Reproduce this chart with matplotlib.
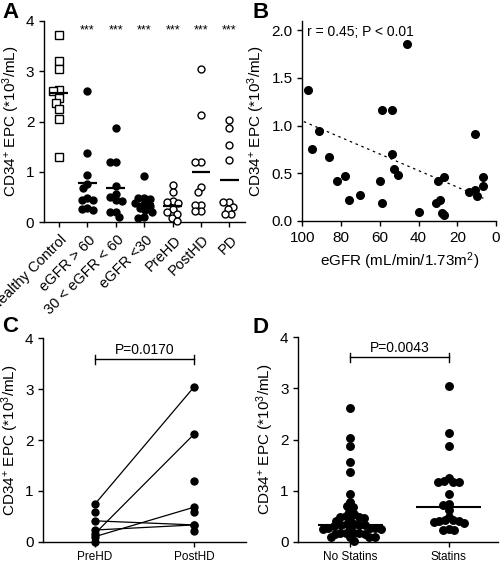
import numpy as np
import matplotlib
matplotlib.use('Agg')
from matplotlib import pyplot as plt
from matplotlib import transforms

plt.rcParams['font.family'] = ['Liberation Sans', 'DejaVu Sans']
plt.rcParams['mathtext.fontset'] = 'custom'
plt.rcParams['mathtext.rm'] = 'Liberation Sans'
plt.rcParams['mathtext.it'] = 'Liberation Sans:italic'
plt.rcParams['mathtext.bf'] = 'Liberation Sans:bold'
plt.rcParams['axes.linewidth'] = 1.0
plt.rcParams['xtick.major.width'] = 1.0
plt.rcParams['ytick.major.width'] = 1.0
plt.rcParams['xtick.major.size'] = 3.5
plt.rcParams['ytick.major.size'] = 3.5

#%% data
# panel A: CD34+ EPC per group (*10^3/mL)
groups_a = ['Healthy Control', 'eGFR > 60', '30 < eGFR < 60', 'eGFR <30', 'PreHD', 'PostHD', 'PD']
healthy = [3.72, 3.20, 3.04, 2.62, 2.60, 2.47, 2.37, 2.25, 2.05, 1.29]
egfr_hi = [2.61, 1.37, 0.94, 0.76, 0.68, 0.48, 0.43, 0.43, 0.28, 0.23, 0.25]
egfr_mid = [1.87, 1.19, 1.19, 0.71, 0.55, 0.50, 0.43, 0.42, 0.20, 0.19, 0.10]
egfr_lo = [0.92, 0.47, 0.47, 0.45, 0.37, 0.35, 0.31, 0.27, 0.23, 0.20, 0.10, 0.08]
prehd = [0.74, 0.59, 0.41, 0.40, 0.38, 0.25, 0.20, 0.16, 0.08, 0.02]
posthd = [3.05, 2.12, 1.19, 1.19, 0.69, 0.59, 0.34, 0.34, 0.22, 0.22]
pd_vals = [2.02, 1.87, 1.54, 1.24, 0.39, 0.39, 0.30, 0.25, 0.15, 0.15]
stars = ['', '***', '***', '***', '***', '***', '***']

# panel B: eGFR vs CD34+ EPC
egfr_b = [97.2, 95.2, 91.2, 86.2, 81.9, 78.0, 76.1, 70.1, 59.9, 58.9, 58.9, 53.9, 53.9, 52.8, 50.8,
          45.8, 39.8, 30.8, 29.8, 28.7, 27.7, 26.7, 26.7, 13.8, 10.7, 10.7, 9.6, 6.5, 6.5]
epc_b = [1.37, 0.75, 0.94, 0.67, 0.42, 0.47, 0.22, 0.27, 0.42, 0.19, 1.16, 1.16, 0.70, 0.54, 0.48,
         1.86, 0.09, 0.19, 0.42, 0.22, 0.08, 0.06, 0.46, 0.30, 0.33, 0.91, 0.26, 0.46, 0.37]
# regression line as drawn in the figure
fit_slope = 0.00867
fit_intercept = 0.182
r_text = 'r = 0.45; P < 0.01'

# panel C: paired PreHD / PostHD
labels_c = ['PreHD', 'PostHD']
pre_paired = [0.74, 0.16, 0.41, 0.10, 0.23]
post_paired = [3.05, 2.12, 0.33, 0.68, 0.33]
pre_only = [0.59, 0.0]
post_only = [1.19, 0.59, 0.22]
p_c = 'P=0.0170'

# panel D: statins
labels_d = ['No Statins', 'Statins']
no_statins = [2.61, 2.02, 1.88, 1.55, 1.37, 0.93, 0.77, 0.69, 0.67, 0.59, 0.55,
              0.47, 0.48, 0.49, 0.50,
              0.41, 0.43,
              0.31, 0.32, 0.33, 0.33, 0.34, 0.35,
              0.25, 0.26, 0.27, 0.26, 0.27, 0.25,
              0.16, 0.17, 0.18, 0.17, 0.18, 0.16,
              0.09, 0.10, 0.09, 0.10,
              0.02]
statins = [3.05, 2.12, 1.87, 1.24, 1.19, 1.17, 1.17, 1.17, 0.94, 0.74, 0.72, 0.62, 0.49,
           0.42, 0.42, 0.41, 0.40, 0.38, 0.36, 0.25, 0.22, 0.22]
p_d = 'P=0.0043'

ylab = 'CD34$^{+}$ EPC (*10$^{3}$/mL)'


def swarm_x(ax, x0, vals, diam):
    # simple beeswarm: place each point as close to the centre as possible (pixel space)
    vals = np.asarray(vals, dtype=float)
    ys = ax.transData.transform(np.column_stack([np.full(len(vals), x0), vals]))[:, 1]
    px_per_unit = abs(ax.transData.transform([[1, 0]])[0, 0] - ax.transData.transform([[0, 0]])[0, 0])
    order = np.argsort(-vals, kind='stable')
    placed = []
    offs = np.zeros(len(vals))
    for i in order:
        cands = [0.0]
        for xj, yj in placed:
            dy = ys[i] - yj
            if abs(dy) < diam:
                dx = np.sqrt(diam ** 2 - dy ** 2)
                cands += [xj - dx, xj + dx]
        cands = sorted(cands, key=lambda c: (round(abs(c), 6), c))
        for c in cands:
            if all((c - xj) ** 2 + (ys[i] - yj) ** 2 >= diam ** 2 - 1e-6 for xj, yj in placed):
                offs[i] = c
                break
        placed.append((offs[i], ys[i]))
    return x0 + offs / px_per_unit


def style(ax):
    ax.spines['top'].set_visible(False)
    ax.spines['right'].set_visible(False)
    ax.tick_params(direction='out', labelsize=11, colors='k')


def bracket(ax, x1, x2, y, text):
    ax.plot([x1, x2], [y, y], color='k', lw=1)
    for xx in (x1, x2):
        ax.plot([xx, xx], [y - 0.09, y + 0.09], color='k', lw=1)
    ax.text((x1 + x2) / 2, y + 0.05, text, ha='center', va='bottom', fontsize=10)


W, H = 500, 564
fig = plt.figure(figsize=(W / 100, H / 100), dpi=100)

#%% panel A
axA = fig.add_axes([44 / W, 1 - 222 / H, 201 / W, 201 / H])
axA.set_xlim(-0.53, 6.55)
axA.set_ylim(0, 4)
style(axA)
all_a = [healthy, egfr_hi, egfr_mid, egfr_lo, prehd, posthd, pd_vals]
for i, vals in enumerate(all_a):
    xs = swarm_x(axA, i, vals, 6.0)
    if i == 0:
        axA.plot(xs, vals, 's', ms=5.2, mfc='white', mec='k', mew=1, clip_on=False, zorder=3)
    elif i <= 3:
        axA.plot(xs, vals, 'o', ms=5, mfc='k', mec='k', mew=1, clip_on=False, zorder=3)
    else:
        axA.plot(xs, vals, 'o', ms=5, mfc='white', mec='k', mew=1, clip_on=False, zorder=3)
    axA.hlines(np.mean(vals), i - 0.33, i + 0.33, color='k', lw=1.6, zorder=4)
    if stars[i]:
        axA.text(i, 3.82, stars[i], ha='center', va='center', fontsize=9)
axA.set_xticks(range(len(groups_a)))
axA.set_xticklabels(groups_a, rotation=45, ha='right', va='center', rotation_mode='anchor', fontsize=10.5)
shift = transforms.ScaledTranslation(6 / 100, -6 / 100, fig.dpi_scale_trans)
for t in axA.get_xticklabels():
    t.set_transform(t.get_transform() + shift)
axA.set_yticks([0, 1, 2, 3, 4])
axA.set_ylabel(ylab, fontsize=11, labelpad=3)

#%% panel B
axB = fig.add_axes([302.3 / W, 1 - 221 / H, 193.7 / W, 200.3 / H])
axB.set_xlim(100, 0)
axB.set_ylim(0, 2.1)
style(axB)
axB.plot(egfr_b, epc_b, 'o', ms=5.5, mfc='k', mec='k', clip_on=False, zorder=3)
xfit = np.array([max(egfr_b) + 2, min(egfr_b)])
axB.plot(xfit, fit_intercept + fit_slope * xfit, color='k', lw=0.9, linestyle=(0, (2, 3)))
axB.set_xticks([100, 80, 60, 40, 20, 0])
axB.set_yticks([0, 0.5, 1.0, 1.5, 2.0])
axB.set_yticklabels(['%.1f' % v for v in [0, 0.5, 1.0, 1.5, 2.0]])
axB.text(97.6, 1.98, r_text, ha='left', va='center', fontsize=10)
axB.set_xlabel('eGFR (mL/min/1.73m$^{2}$)', fontsize=11)
axB.set_ylabel(ylab, fontsize=11, labelpad=3)

#%% panel C
axC = fig.add_axes([43.3 / W, 1 - 541.7 / H, 202.7 / W, 203.4 / H])
axC.set_xlim(-0.52, 1.52)
axC.set_ylim(0, 4)
style(axC)
for a, b in zip(pre_paired, post_paired):
    axC.plot([0, 1], [a, b], color='k', lw=0.9, zorder=2)
axC.plot(np.zeros(len(pre_paired + pre_only)), pre_paired + pre_only, 'o', ms=5, mfc='k', mec='k',
         clip_on=False, zorder=3)
axC.plot(np.ones(len(post_paired + post_only)), post_paired + post_only, 'o', ms=5, mfc='k', mec='k',
         clip_on=False, zorder=3)
bracket(axC, 0, 1, 3.59, p_c)
axC.set_xticks([0, 1])
axC.set_xticklabels(labels_c, fontsize=8.5)
axC.set_yticks([0, 1, 2, 3, 4])
axC.set_ylabel(ylab, fontsize=11, labelpad=3)

#%% panel D
axD = fig.add_axes([298.3 / W, 1 - 541.7 / H, 199.7 / W, 204.4 / H])
axD.set_xlim(-0.53, 1.5)
axD.set_ylim(0, 4)
style(axD)
for i, vals in enumerate([no_statins, statins]):
    xs = swarm_x(axD, i, vals, 5.6)
    axD.plot(xs, vals, 'o', ms=5.4, mfc='k', mec='k', clip_on=False, zorder=3)
    axD.hlines(np.median(vals), i - 0.33, i + 0.33, color='k', lw=1.5, zorder=4)
bracket(axD, 0, 1, 3.61, p_d)
axD.set_xticks([0, 1])
axD.set_xticklabels(labels_d, fontsize=8.5)
axD.set_yticks([0, 1, 2, 3, 4])
axD.set_ylabel(ylab, fontsize=11, labelpad=3)

# panel letters
for lab, x, y in [('A', 2, 18), ('B', 252, 18), ('C', 2, 332), ('D', 252, 333)]:
    fig.text(x / W, 1 - y / H, lab, fontsize=16, fontweight='bold', ha='left', va='baseline')

fig.savefig('out.png', dpi=100)
